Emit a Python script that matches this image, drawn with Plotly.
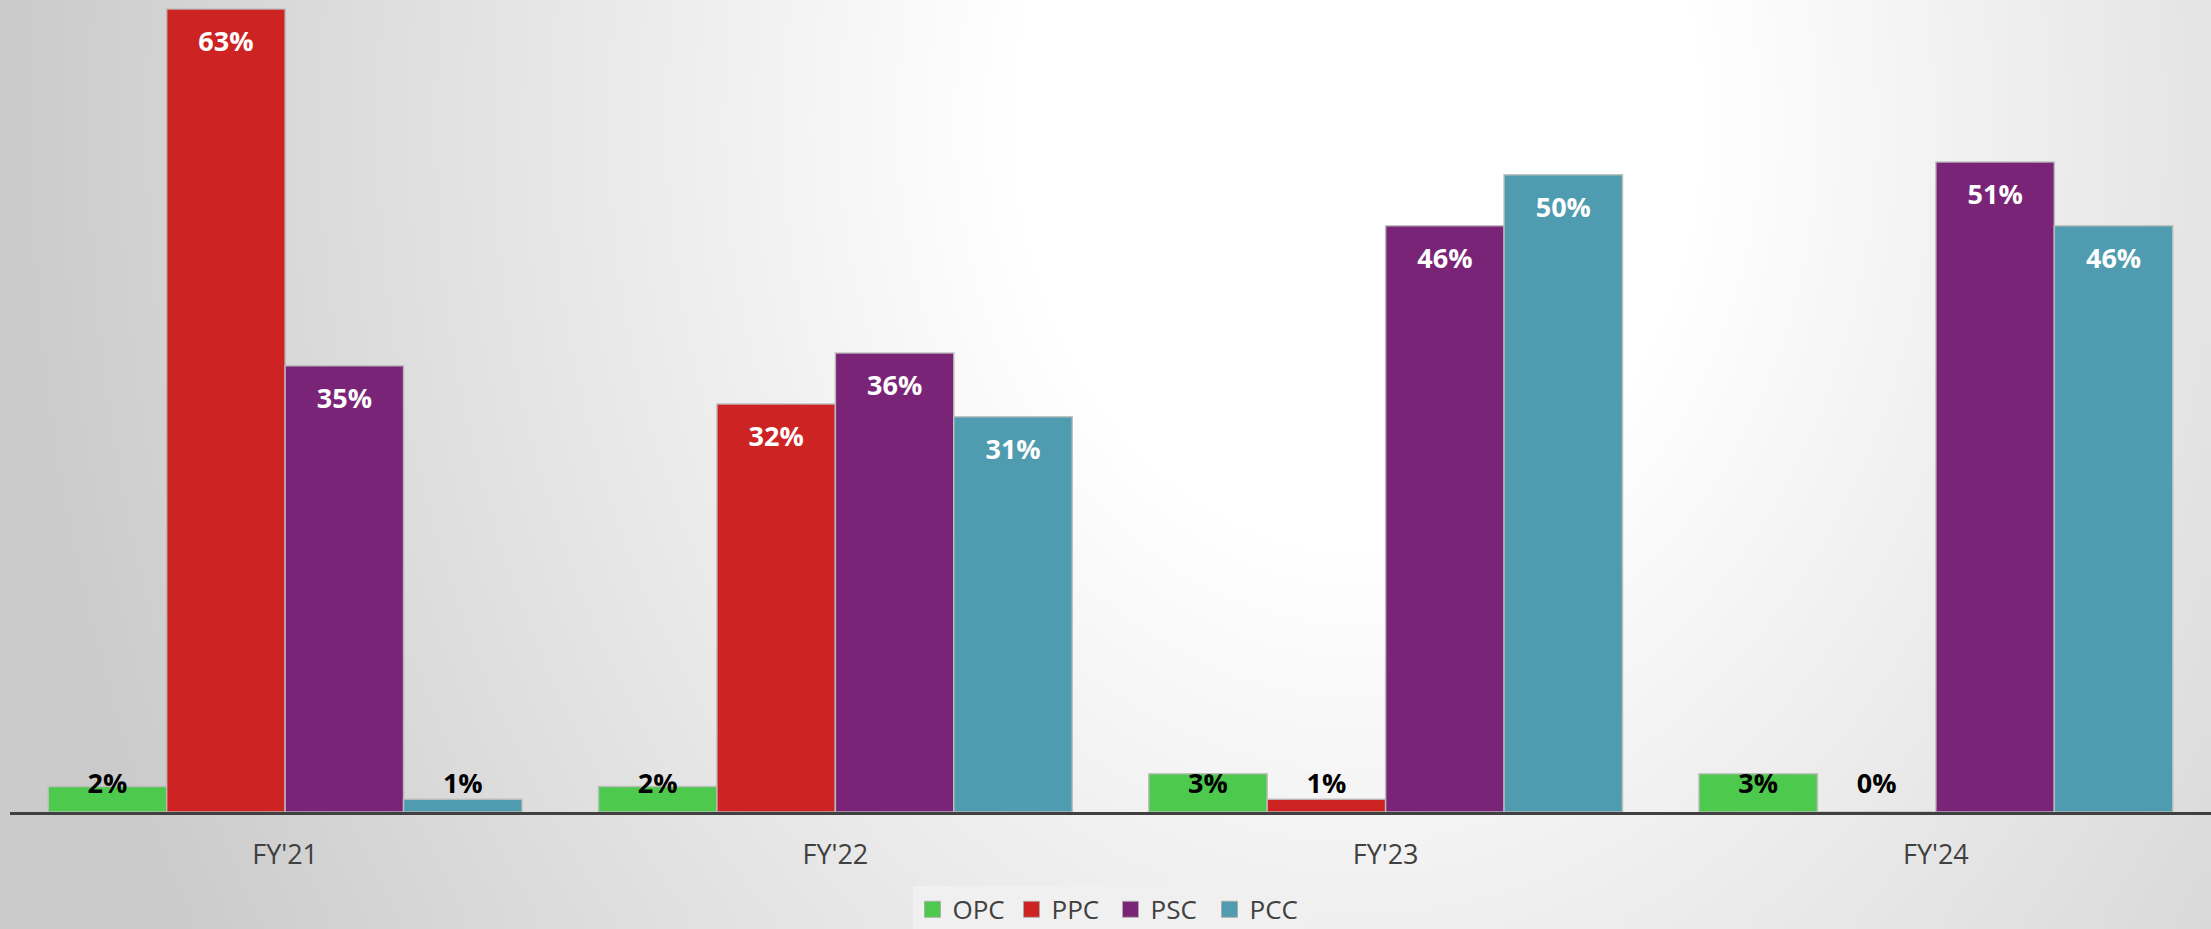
import base64
import math
import struct
import zlib

import plotly.graph_objects as go

categories = ["FY'21", "FY'22", "FY'23", "FY'24"]

opc = [0.02, 0.02, 0.03, 0.03]
ppc = [0.63, 0.32, 0.01, 0.0]
psc = [0.35, 0.36, 0.46, 0.51]
pcc = [0.01, 0.31, 0.50, 0.46]

series_names = ["OPC", "PPC", "PSC", "PCC"]
series_colors = ["#4DC94D", "#CD2323", "#7A2477", "#4F9BB0"]

FIG_W, FIG_H = 2211, 929
M_L, M_R, M_T, M_B = 10, 0, 0, 117
Y_MAX = 0.637
SMALL = 0.1  # below this the label sits at the bar base, in black

# label layers are drawn on hidden overlay axes, nudged a few px
# so the labels land where excel put them
PX_PER_UNIT = (FIG_H - M_T - M_B) / Y_MAX
TOP_NUDGE = 10 / PX_PER_UNIT
BASE_NUDGE = -8.5 / PX_PER_UNIT


def background_png(w, h, step=8):
    # soft radial grey -> white backdrop, like the office chart style
    pw, ph = w // step, h // step
    raw = b""
    for j in range(ph):
        row = bytearray([0])
        for i in range(pw):
            dx = i * step - 1350
            dy = (j * step - 120) * 0.8
            d = math.hypot(dx, dy)
            t = min(max((d - 350) / 1000, 0), 1)
            row.append(int(255 - 52 * t))
        raw += bytes(row)

    def chunk(tag, data):
        c = struct.pack(">I", len(data)) + tag + data
        return c + struct.pack(">I", zlib.crc32(tag + data) & 0xFFFFFFFF)

    png = b"\x89PNG\r\n\x1a\n"
    png += chunk(b"IHDR", struct.pack(">IIBBBBB", pw, ph, 8, 0, 0, 0, 0))
    png += chunk(b"IDAT", zlib.compress(raw, 9))
    png += chunk(b"IEND", b"")
    return "data:image/png;base64," + base64.b64encode(png).decode()


def label_trace(vals, yaxis, small, anchor, color):
    # base labels ride on a carrier bar of fixed height, so a 0% still gets its text
    heights = [SMALL] * len(vals) if small else vals
    return go.Bar(
        x=categories,
        y=heights,
        yaxis=yaxis,
        marker=dict(color="rgba(0,0,0,0)", line=dict(width=0)),
        text=[f"{v:.0%}" if (v < SMALL) == small else "" for v in vals],
        textposition="inside",
        insidetextanchor=anchor,
        textfont=dict(family="Open Sans", size=27, weight="bold", color=color),
        constraintext="none",
        cliponaxis=False,
        hoverinfo="skip",
        showlegend=False,
    )


fig = go.Figure()

all_vals = [opc, ppc, psc, pcc]

for name, vals, color in zip(series_names, all_vals, series_colors):
    fig.add_trace(
        go.Bar(
            name=name,
            x=categories,
            y=vals,
            marker=dict(color=color, line=dict(color="rgba(190,190,190,0.9)", width=1.5)),
            showlegend=False,
        )
    )

for vals in all_vals:
    fig.add_trace(label_trace(vals, "y2", False, "end", "white"))

for vals in all_vals:
    fig.add_trace(label_trace(vals, "y3", True, "start", "black"))

# legend entries with bigger square swatches than the bar default
for name, color in zip(series_names, series_colors):
    fig.add_trace(
        go.Scatter(
            name=name,
            x=[None],
            y=[None],
            mode="markers",
            marker=dict(
                symbol="square",
                size=16,
                color=color,
                line=dict(color="rgba(170,170,170,0.9)", width=1),
            ),
        )
    )

plot_w = FIG_W - M_L - M_R
plot_h = FIG_H - M_T - M_B

fig.add_layout_image(
    dict(
        source=background_png(FIG_W, FIG_H),
        xref="paper",
        yref="paper",
        x=-M_L / plot_w,
        y=1 + M_T / plot_h,
        sizex=FIG_W / plot_w,
        sizey=FIG_H / plot_h,
        sizing="stretch",
        xanchor="left",
        yanchor="top",
        layer="below",
    )
)

fig.update_layout(
    width=FIG_W,
    height=FIG_H,
    margin=dict(l=M_L, r=M_R, t=M_T, b=M_B, autoexpand=False),
    paper_bgcolor="#e6e6e6",
    plot_bgcolor="rgba(0,0,0,0)",
    barmode="group",
    bargap=0.139,
    bargroupgap=0,
    font=dict(family="Open Sans", color="#404040"),
    xaxis=dict(
        showline=True,
        linecolor="#404040",
        linewidth=3,
        showgrid=False,
        tickfont=dict(size=27, color="#404040"),
        ticklabelstandoff=17,
    ),
    yaxis=dict(range=[0, Y_MAX], visible=False),
    yaxis2=dict(range=[TOP_NUDGE, Y_MAX + TOP_NUDGE], overlaying="y", visible=False),
    yaxis3=dict(range=[BASE_NUDGE, Y_MAX + BASE_NUDGE], overlaying="y", visible=False),
    legend=dict(
        orientation="h",
        x=0.5,
        xanchor="center",
        y=-0.091,
        yanchor="top",
        bgcolor="#f0f0f0",
        font=dict(size=26, color="#404040"),
        itemclick=False,
        entrywidth=54,
    ),
)

fig.write_html(
    "out.html",
    config={"displayModeBar": False},
    post_script="document.body.style.margin='0';",
)
